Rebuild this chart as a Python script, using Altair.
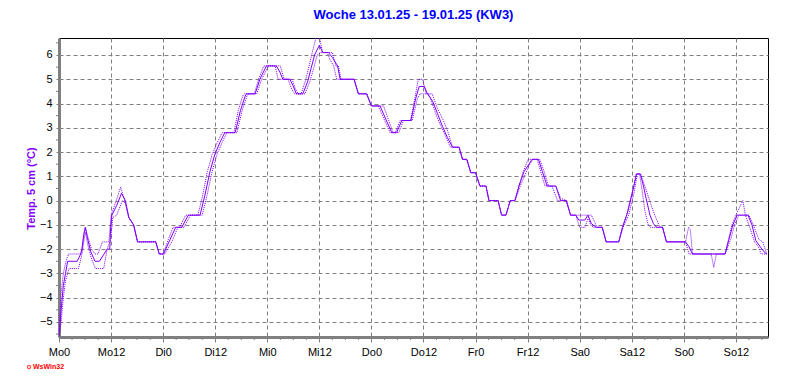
import altair as alt
import pandas as pd

# ---- data (hours since Monday 0:00, temperature in °C) ----
main_h = [0, 0.5, 1, 1.5, 2, 4.2, 5, 5.3, 5.7, 6.1, 6.5, 7.3, 8.3, 9.3, 11.1, 11.7, 11.9, 12.2, 13.3, 14.4,
          15.3, 16.1, 17.2, 18.1, 22.3, 23.1, 24.1, 25.6, 26.9, 28.3, 29.8, 32.5, 33.6, 34.8, 35.9, 37.1, 38.2,
          40.6, 41.8, 42.9, 43.2, 45.2, 46.3, 47.8, 50.1, 50.9, 51.6, 53.2, 53.9, 54.7, 56.2, 57.3, 58.1, 58.9,
          60.0, 60.8, 62.1, 63.0, 64.2, 64.8, 68.0, 69.0, 70.9, 72.0, 74.0, 75.2, 76.7, 77.8, 79.0, 81.1, 82.2,
          83.0, 84.2, 84.9, 86.1, 87.2, 88.4, 89.5, 90.7, 92.2, 93.0, 94.0, 94.9, 96.0, 97.0, 98.4, 99.1, 101.2,
          102.0, 103.0, 104.0, 105.1, 106.0, 107.2, 108.3, 109.0, 110.5, 111.4, 112.5, 114.5, 115.6, 116.9,
          117.9, 119.1, 119.8, 121.2, 121.9, 122.7, 123.8, 125.2, 126.1, 129.0, 129.9, 131.1, 132.1, 133.1,
          134.0, 134.7, 135.3, 136.2, 137.0, 137.7, 139.1, 140.0, 144.4, 145.2, 146.0, 153.5, 154.4, 155.3,
          156.3, 158.8, 159.7, 160.6, 161.6, 162.7, 163.1]
main_v = [-5.6, -4.5, -3.5, -3.0, -2.5, -2.5, -2.2, -2.0, -1.4, -1.1, -1.5, -2.1, -2.5, -2.5, -2.0, -2.0, -1.1,
          -0.6, -0.2, 0.3, 0.0, -0.7, -1.0, -1.7, -1.7, -2.2, -2.2, -1.6, -1.1, -1.1, -0.6, -0.6, 0.2, 1.2, 1.9,
          2.4, 2.8, 2.8, 3.7, 4.3, 4.4, 4.4, 5.0, 5.55, 5.55, 5.3, 5.0, 5.0, 4.75, 4.4, 4.4, 4.9, 5.45, 6.0,
          6.4, 6.1, 6.1, 5.9, 5.55, 5.0, 5.0, 4.4, 4.4, 3.9, 3.9, 3.4, 2.8, 2.8, 3.3, 3.3, 4.2, 4.7, 4.7, 4.4,
          4.1, 3.6, 3.05, 2.6, 2.2, 2.2, 1.7, 1.7, 1.15, 1.15, 0.6, 0.6, 0.0, 0.0, -0.6, -0.6, 0.0, 0.0, 0.6,
          1.2, 1.5, 1.7, 1.7, 1.2, 0.6, 0.6, 0.0, 0.0, -0.6, -0.6, -0.8, -0.8, -0.6, -0.95, -1.1, -1.1, -1.7,
          -1.7, -1.1, -0.45, 0.3, 1.1, 1.1, 0.6, 0.1, -0.6, -0.95, -1.1, -1.1, -1.7, -1.7, -1.9, -2.2, -2.2,
          -1.6, -1.0, -0.6, -0.6, -1.0, -1.65, -1.9, -2.15, -2.2]

upper_h = [0, 0.5, 1, 1.6, 2.2, 5.0, 5.3, 6.0, 6.5, 7.5, 8.3, 9.0, 10.0, 11.5, 12.0, 13.0, 14.2, 15.0, 16.1,
           17.2, 18.1, 22.3, 23.1, 24.0, 25.2, 26.3, 27.8, 29.2, 32.0, 33.1, 34.2, 35.3, 36.5, 37.6, 40.3,
           41.3, 42.3, 42.7, 45.0, 46.0, 47.2, 51.0, 51.9, 53.7, 54.5, 55.1, 55.8, 56.9, 57.7, 58.5, 59.2,
           60.1, 60.7, 63.0, 63.8, 64.4, 65.0, 68.0, 69.0, 70.9, 72.0, 74.8, 75.8, 77.0, 77.5, 78.6, 81.0,
           82.0, 82.8, 83.8, 84.6, 86.0, 87.2, 88.6, 89.7, 90.7, 92.2, 93.0, 94.0, 94.9, 96.0, 97.0, 98.4,
           99.1, 101.2, 102.0, 103.0, 104.0, 105.0, 106.0, 107.0, 108.1, 110.8, 111.8, 112.8, 114.5, 115.6,
           117.0, 117.9, 122.7, 123.5, 124.0, 125.2, 126.1, 129.0, 129.8, 130.8, 131.6, 132.5, 133.0, 134.0,
           135.2, 136.5, 137.3, 138.5, 139.1, 140.0, 144.4, 145.1, 145.5, 146.0, 153.5, 154.3, 155.1, 156.0,
           157.6, 158.2, 159.0, 160.0, 161.3, 162.2, 163.1]
upper_v = [-5.3, -3.8, -3.0, -2.5, -2.2, -2.2, -2.0, -1.1, -1.4, -2.0, -2.2, -2.2, -1.7, -1.7, -0.6, -0.1,
           0.55, 0.1, -0.7, -1.0, -1.7, -1.7, -2.2, -2.2, -1.6, -1.1, -1.1, -0.6, -0.6, 0.2, 1.2, 1.9, 2.4,
           2.8, 2.8, 3.7, 4.3, 4.4, 4.4, 5.0, 5.55, 5.55, 5.0, 5.0, 4.6, 4.4, 4.4, 5.0, 5.6, 6.2, 6.7, 6.7,
           6.1, 6.1, 5.55, 5.55, 5.0, 5.0, 4.4, 4.4, 3.9, 3.9, 3.4, 2.8, 2.8, 3.3, 3.3, 4.2, 5.0, 5.0, 4.4,
           4.4, 3.8, 3.3, 2.8, 2.2, 2.2, 1.7, 1.7, 1.15, 1.15, 0.6, 0.6, 0.0, 0.0, -0.6, -0.6, 0.0, 0.0, 0.6,
           1.2, 1.7, 1.7, 1.2, 0.6, 0.6, 0.1, 0.0, -0.6, -0.6, -0.9, -1.1, -1.1, -1.7, -1.7, -1.1, -0.6, 0.0,
           0.6, 1.1, 1.1, 0.5, -0.2, -0.6, -1.1, -1.1, -1.7, -1.7, -1.1, -1.2, -2.2, -2.2, -1.6, -1.0, -0.6,
           0.0, -0.6, -0.6, -1.0, -1.6, -1.7, -2.2]

lower_h = [0, 0.5, 1, 1.5, 2.3, 4.5, 5.3, 5.8, 6.1, 6.6, 7.5, 8.4, 10.3, 11.1, 11.9, 12.4, 13.3, 14.6, 15.3,
           16.1, 17.2, 18.1, 22.3, 23.1, 24.4, 26.0, 27.4, 28.8, 30.3, 33.0, 34.1, 35.3, 36.4, 37.6, 38.7,
           41.0, 42.2, 43.3, 43.7, 45.6, 46.7, 48.3, 49.8, 50.5, 52.8, 53.6, 54.3, 56.7, 57.8, 58.7, 59.5,
           60.3, 61.8, 62.5, 63.3, 64.0, 68.0, 69.0, 70.9, 72.0, 73.6, 74.8, 76.3, 78.3, 79.4, 81.4, 82.6,
           83.2, 85.2, 86.2, 87.2, 88.2, 89.2, 90.2, 92.2, 93.0, 94.0, 94.9, 96.0, 97.0, 98.4, 99.1, 101.2,
           102.0, 103.0, 104.0, 105.1, 106.3, 107.5, 108.2, 109.2, 110.2, 111.0, 112.0, 113.6, 114.9, 116.9,
           117.9, 119.1, 120.0, 121.2, 122.0, 122.5, 123.2, 125.2, 126.1, 129.0, 130.0, 131.3, 132.5, 133.3,
           133.8, 134.4, 135.0, 135.8, 136.3, 139.1, 140.0, 144.4, 145.2, 150.3, 150.9, 151.5, 153.5, 154.8,
           155.7, 156.7, 158.2, 159.2, 160.3, 161.2, 161.8, 163.1]
lower_v = [-5.6, -5.0, -4.0, -3.3, -2.8, -2.8, -2.2, -1.6, -1.3, -1.8, -2.4, -2.8, -2.8, -2.0, -1.6, -0.7,
           -0.6, 0.0, -0.1, -0.7, -1.0, -1.7, -1.7, -2.2, -2.2, -1.7, -1.1, -1.1, -0.6, -0.6, 0.2, 1.2, 1.9,
           2.4, 2.8, 2.8, 3.7, 4.3, 4.4, 4.4, 5.0, 5.55, 5.55, 5.0, 5.0, 4.6, 4.4, 4.4, 4.9, 5.45, 6.0, 6.1,
           6.1, 5.8, 5.55, 5.0, 5.0, 4.4, 4.4, 3.9, 3.9, 3.4, 2.8, 2.8, 3.3, 3.3, 4.2, 4.4, 4.4, 3.9, 3.4,
           3.0, 2.6, 2.2, 2.2, 1.7, 1.7, 1.15, 1.15, 0.6, 0.6, 0.0, 0.0, -0.6, -0.6, 0.0, 0.0, 0.6, 1.1, 1.4,
           1.7, 1.7, 1.2, 0.6, 0.6, 0.0, 0.0, -0.6, -0.6, -1.1, -1.1, -0.7, -1.0, -1.1, -1.1, -1.7, -1.7,
           -1.1, -0.6, 0.3, 1.1, 1.1, 0.4, -0.4, -1.0, -1.1, -1.1, -1.7, -1.7, -2.2, -2.2, -2.75, -2.2, -2.2,
           -1.6, -1.0, -0.6, -0.6, -1.1, -1.7, -1.9, -2.2, -2.2]

x_labels = ["Mo0", "Mo12", "Di0", "Di12", "Mi0", "Mi12", "Do0", "Do12",
            "Fr0", "Fr12", "Sa0", "Sa12", "So0", "So12"]
x_major = [12 * i for i in range(len(x_labels))]
x_minor = [h for h in range(3, 163, 3) if h % 12 != 0]
y_ticks = list(range(-5, 7))
y_minor = [v + 0.5 for v in range(-6, 7) if -5.6 < v + 0.5 < 6.7]

title_text = "Woche 13.01.25 - 19.01.25 (KW3)"
y_title = "Temp. 5 cm (°C)"
credit = "WsWin32"

LINE = "#8000FF"
GRID = "#808080"
FONT = "Liberation Sans"

label_expr = "[" + ",".join("'%s'" % s for s in x_labels) + "][round(datum.value/12)]"

x_enc = alt.X("h:Q",
              scale=alt.Scale(domain=[0, 163.4], nice=False, zero=False),
              axis=alt.Axis(values=x_major, labelExpr=label_expr, title=None, grid=True,
                            tickSize=5, labelPadding=4, labelFlush=False, labelOverlap=False))
y_enc = alt.Y("v:Q",
              scale=alt.Scale(domain=[-5.62, 6.7], nice=False, zero=False),
              axis=alt.Axis(values=y_ticks, title=y_title, grid=True, tickSize=3, labelPadding=4,
                            titleColor=LINE, titleFontWeight="bold", titleFontSize=11, titleFont=FONT,
                            titleX=-28, titleY=150, titleAngle=270, titleAlign="center",
                            titleBaseline="middle"))

df_main = pd.DataFrame({"h": main_h, "v": main_v})
df_up = pd.DataFrame({"h": upper_h, "v": upper_v})
df_low = pd.DataFrame({"h": lower_h, "v": lower_v})

main_line = alt.Chart(df_main).mark_line(color=LINE, strokeWidth=1, clip=True).encode(x=x_enc, y=y_enc)
up_line = alt.Chart(df_up).mark_line(color=LINE, strokeWidth=1, strokeDash=[1, 1], clip=True).encode(x=x_enc, y=y_enc)
low_line = alt.Chart(df_low).mark_line(color=LINE, strokeWidth=1, strokeDash=[1, 1], clip=True).encode(x=x_enc, y=y_enc)

minor_x = alt.Chart(pd.DataFrame({"h": x_minor})).mark_rule(color=GRID, strokeWidth=1).encode(
    x=x_enc, y=alt.value(299), y2=alt.value(302))
minor_y = alt.Chart(pd.DataFrame({"v": y_minor})).mark_rule(color=GRID, strokeWidth=1).encode(
    y=y_enc, x=alt.value(-3), x2=alt.value(0))

credit_text = alt.Chart(pd.DataFrame({"t": [credit]})).mark_text(
    align="left", baseline="middle", color="#FF0000", fontSize=7, fontWeight="bold", font=FONT
).encode(text="t:N", x=alt.value(-26), y=alt.value(329))
credit_dot = alt.Chart(pd.DataFrame({"t": [credit]})).mark_point(
    shape="circle", filled=False, color="#FF0000", size=10, strokeWidth=1.2
).encode(x=alt.value(-30), y=alt.value(329))

chart = alt.layer(minor_x, minor_y, low_line, up_line, main_line, credit_text, credit_dot).properties(
    width=709, height=299,
    autosize=alt.AutoSizeParams(type="none"),
    padding={"left": 51, "top": 30, "right": 14, "bottom": 40},
    background="white",
    title=alt.TitleParams(title_text, color="#0000FF", fontSize=13, fontWeight="bold", font=FONT,
                          anchor="middle", offset=16),
).configure_view(
    stroke="#000000", strokeWidth=1
).configure_axis(
    domainColor=GRID, domainWidth=3, tickColor=GRID, tickWidth=1,
    gridColor=GRID, gridDash=[4, 3], gridWidth=1,
    labelFont=FONT, labelFontSize=11, labelColor="#000000"
)

chart.save("out.html", embed_options={"renderer": "svg", "actions": False})
